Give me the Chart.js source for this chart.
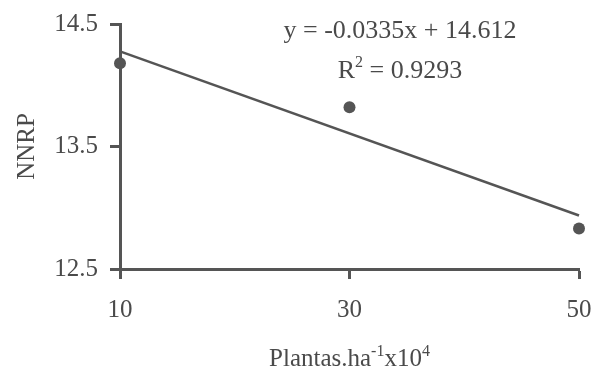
<!DOCTYPE html>
<html>
<head>
<meta charset="utf-8">
<script src="https://cdn.jsdelivr.net/npm/chart.js@4"></script>
<style>
    html, body { margin: 0; padding: 0; background: #fff; }
    #wrap { width: 595px; height: 372px; }
</style>
</head>
<body>
<div id="wrap"><canvas id="nnrpChart" width="595" height="372"></canvas></div>
<script>
// Data
const densities = [10, 30, 50];          // Plantas.ha-1 x10^4
const nnrpValues = [14.18, 13.82, 12.83]; // NNRP
const slope = -0.0335;
const intercept = 14.612;
const rSquared = 0.9293;
const xTicks = [10, 30, 50];
const yTicks = [12.5, 13.5, 14.5];

const ink = '#555555';
const textInk = '#4a4a4a';
const serif = '"Liberation Serif", "Times New Roman", serif';

// Trend line endpoints from the regression equation
const trendX = [densities[0], densities[densities.length - 1]];
const trendPoints = trendX.map(x => ({ x: x, y: slope * x + intercept }));

// Draw axis title with superscripts and the regression equation
const annotationPlugin = {
    id: 'annotations',
    afterDraw(chart) {
        const ctx = chart.ctx;
        ctx.save();
        ctx.fillStyle = textInk;
        ctx.textBaseline = 'alphabetic';
        ctx.textAlign = 'left';

        // helper: draw runs of [text, isSuperscript]
        function drawRuns(runs, x, y, size) {
            let cx = x;
            runs.forEach(([txt, sup]) => {
                const fs = sup ? Math.round(size * 0.62) : size;
                ctx.font = fs + 'px ' + serif;
                ctx.fillText(txt, cx, sup ? y - size * 0.42 : y);
                cx += ctx.measureText(txt).width;
            });
        }
        function runsWidth(runs, size) {
            let w = 0;
            runs.forEach(([txt, sup]) => {
                ctx.font = (sup ? Math.round(size * 0.62) : size) + 'px ' + serif;
                w += ctx.measureText(txt).width;
            });
            return w;
        }

        // x axis title
        const xTitle = [['Plantas.ha', false], ['-1', true], ['x10', false], ['4', true]];
        const area = chart.chartArea;
        const xw = runsWidth(xTitle, 25);
        drawRuns(xTitle, (area.left + area.right) / 2 - xw / 2, 366, 25);

        // regression equation
        const eq = [['y = ' + slope.toFixed(4) + 'x + ' + intercept.toFixed(3), false]];
        const eqW = runsWidth(eq, 26);
        drawRuns(eq, 400 - eqW / 2, 38, 26);
        const r2 = [['R', false], ['2', true], [' = ' + rSquared.toFixed(4), false]];
        const r2W = runsWidth(r2, 26);
        drawRuns(r2, 400 - r2W / 2, 78, 26);

        ctx.restore();
    }
};

function fitY(scale) {
    scale.width = 120;
    scale.paddingTop = 0; scale.paddingBottom = 0;
}
function fitX(scale) {
    scale.height = 103;
    scale.paddingLeft = 0; scale.paddingRight = 0;
}

document.addEventListener('DOMContentLoaded', function() {
    const ctx = document.getElementById('nnrpChart');
    new Chart(ctx, {
        type: 'scatter',
        data: {
            datasets: [
                {
                    label: 'NNRP',
                    data: densities.map((x, i) => ({ x: x, y: nnrpValues[i] })),
                    backgroundColor: ink,
                    borderWidth: 0,
                    pointRadius: 6,
                    pointHoverRadius: 6,
                    clip: false
                },
                {
                    label: 'Linear',
                    data: trendPoints,
                    showLine: true,
                    borderColor: ink,
                    borderWidth: 2.5,
                    pointRadius: 0,
                    fill: false,
                    clip: false
                }
            ]
        },
        options: {
            responsive: false,
            animation: false,
            layout: { padding: { left: 0, top: 24, right: 16, bottom: 0 } },
            plugins: {
                legend: { display: false },
                tooltip: { enabled: false }
            },
            scales: {
                x: {
                    type: 'linear',
                    min: 10,
                    max: 50,
                    afterFit: fitX,
                    afterBuildTicks: scale => { scale.ticks = xTicks.map(v => ({ value: v })); },
                    grid: { display: true, drawOnChartArea: false, drawTicks: true, tickLength: 10, tickWidth: 3, color: ink },
                    border: { display: true, color: ink, width: 3 },
                    ticks: {
                        padding: 16,
                        color: textInk,
                        font: { family: serif, size: 25 },
                        maxRotation: 0
                    }
                },
                y: {
                    type: 'linear',
                    min: 12.5,
                    max: 14.5,
                    afterFit: fitY,
                    afterBuildTicks: scale => { scale.ticks = yTicks.map(v => ({ value: v })); },
                    grid: { display: true, drawOnChartArea: false, drawTicks: true, tickLength: 10, tickWidth: 3, color: ink },
                    border: { display: true, color: ink, width: 3 },
                    ticks: {
                        padding: 12,
                        color: textInk,
                        font: { family: serif, size: 25 },
                        callback: v => v.toFixed(1)
                    },
                    title: {
                        display: true,
                        text: 'NNRP',
                        color: textInk,
                        font: { family: serif, size: 25 },
                        padding: { top: 12, bottom: 0 }
                    }
                }
            }
        },
        plugins: [annotationPlugin]
    });
});
</script>
</body>
</html>
